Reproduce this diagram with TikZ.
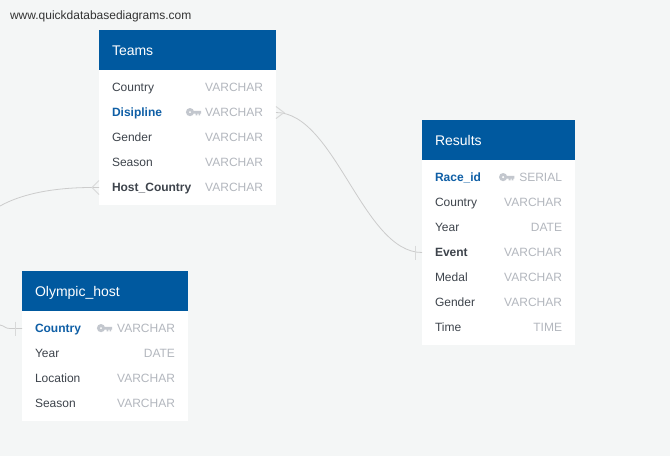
\documentclass[tikz,border=0pt]{standalone}
\usepackage{fontspec}
\setmainfont{Liberation Sans}
\usepackage{tikz}
\usetikzlibrary{ calc, positioning }
\definecolor{pagebg}{HTML}{F4F6F6}
\definecolor{headblue}{HTML}{00599F}
\definecolor{keyblue}{HTML}{0F5FA6}
\definecolor{fieldgrey}{HTML}{3E444C}
\definecolor{typegrey}{HTML}{B3B7BE}
\definecolor{keygrey}{HTML}{C3C7CE}
\definecolor{linegrey}{HTML}{CCCCCC}
\definecolor{tickgrey}{HTML}{D8D9D9}
\tikzset{
  x=1pt, y=-1pt,
  node distance=0pt,
  every node/.style={outer sep=0pt},
  head/.style={fill=headblue, text=white, font=\fontsize{14}{16}\selectfont, minimum height=40pt,
    inner ysep=0pt, inner xsep=13pt, align=left, text width=#1pt-26pt, text height=14pt, text depth=3pt},
  tbody/.style={fill=white, minimum width=#1pt, inner sep=0pt},
  field/.style={text=fieldgrey, font=\fontsize{12}{14}\selectfont, minimum height=25pt,
    inner ysep=0pt, inner xsep=13pt, align=left, text width=#1pt-26pt, text height=11pt, text depth=3pt},
  keyfield/.style={field=#1, text=keyblue, font=\fontsize{12}{14}\selectfont\bfseries},
  boldfield/.style={field=#1, font=\fontsize{12}{14}\selectfont\bfseries},
  type/.style={text=typegrey, font=\fontsize{12}{14}\selectfont, inner sep=0pt, text height=11pt, text depth=3pt},
  link/.style={draw=linegrey, line width=0.8pt},
  tick/.style={draw=tickgrey, line width=1pt},
  keyicon/.pic={
    \fill[keygrey, even odd rule] (-11.2,-0.4) circle (4.1) (-11.2,-0.4) circle (1.3);
    \fill[keygrey] (-8,-1.6) rectangle (0,1) (-2.6,1) rectangle (-1,2.8) (-5.6,1) rectangle (-3.8,2.8);
  },
}
\begin{document}
\begin{tikzpicture}
  \useasboundingbox[fill=pagebg] (0,0) rectangle (670,456);
  \node[anchor=west, inner sep=0pt, text=black!80, font=\fontsize{12}{14}\selectfont] (site) at (10,16) {www.quickdatabasediagrams.com};

  % Teams
  \node[head=177, anchor=north west] (teams) at (99,30) {Teams};
  \node[tbody=177, minimum height=135pt, below=of teams] (teamsBody) {};
  \node[field=177, below=5pt of teams] (teamsCountry) {Country};
  \node[keyfield=177, below=of teamsCountry] (teamsDisipline) {Disipline};
  \node[field=177, below=of teamsDisipline] (teamsGender) {Gender};
  \node[field=177, below=of teamsGender] (teamsSeason) {Season};
  \node[boldfield=177, below=of teamsSeason] (teamsHost) {Host\_Country};
  \node[type, left=13pt of teamsCountry.east] (teamsCountryT) {VARCHAR};
  \node[type, left=13pt of teamsDisipline.east] (teamsDisiplineT) {VARCHAR};
  \node[type, left=13pt of teamsGender.east] (teamsGenderT) {VARCHAR};
  \node[type, left=13pt of teamsSeason.east] (teamsSeasonT) {VARCHAR};
  \node[type, left=13pt of teamsHost.east] (teamsHostT) {VARCHAR};
  \pic at ([xshift=-4pt]teamsDisiplineT.west) {keyicon};

  % Results
  \node[head=153, anchor=north west] (results) at (422,120) {Results};
  \node[tbody=153, minimum height=185pt, below=of results] (resultsBody) {};
  \node[keyfield=153, below=5pt of results] (resultsRace) {Race\_id};
  \node[field=153, below=of resultsRace] (resultsCountry) {Country};
  \node[field=153, below=of resultsCountry] (resultsYear) {Year};
  \node[boldfield=153, below=of resultsYear] (resultsEvent) {Event};
  \node[field=153, below=of resultsEvent] (resultsMedal) {Medal};
  \node[field=153, below=of resultsMedal] (resultsGender) {Gender};
  \node[field=153, below=of resultsGender] (resultsTime) {Time};
  \node[type, left=13pt of resultsRace.east] (resultsRaceT) {SERIAL};
  \node[type, left=13pt of resultsCountry.east] (resultsCountryT) {VARCHAR};
  \node[type, left=13pt of resultsYear.east] (resultsYearT) {DATE};
  \node[type, left=13pt of resultsEvent.east] (resultsEventT) {VARCHAR};
  \node[type, left=13pt of resultsMedal.east] (resultsMedalT) {VARCHAR};
  \node[type, left=13pt of resultsGender.east] (resultsGenderT) {VARCHAR};
  \node[type, left=13pt of resultsTime.east] (resultsTimeT) {TIME};
  \pic at ([xshift=-5pt]resultsRaceT.west) {keyicon};

  % Olympic_host
  \node[head=166, anchor=north west] (host) at (22,271) {Olympic\_host};
  \node[tbody=166, minimum height=110pt, below=of host] (hostBody) {};
  \node[keyfield=166, below=5pt of host] (hostCountry) {Country};
  \node[field=166, below=of hostCountry] (hostYear) {Year};
  \node[field=166, below=of hostYear] (hostLocation) {Location};
  \node[field=166, below=of hostLocation] (hostSeason) {Season};
  \node[type, left=13pt of hostCountry.east] (hostCountryT) {VARCHAR};
  \node[type, left=13pt of hostYear.east] (hostYearT) {DATE};
  \node[type, left=13pt of hostLocation.east] (hostLocationT) {VARCHAR};
  \node[type, left=13pt of hostSeason.east] (hostSeasonT) {VARCHAR};
  \pic at ([xshift=-5pt]hostCountryT.west) {keyicon};

  % connectors
  \coordinate (offLeftTop) at (0,206);
  \coordinate (offLeftLow) at (0,325);
  \draw[link] (teamsDisipline.east) .. controls ($(teamsDisipline.east)+(59,0)$) and ($(resultsEvent.west)+(-59,0)$) .. (resultsEvent.west);
  \draw[link] (teamsHost.west) -- ++(-7,0) .. controls ++(-32,0) and ($(offLeftTop)+(25,-14)$) .. (offLeftTop);
  \draw[link] (hostCountry.west) -- ++(-12,0) .. controls ++(-5,0) and ($(offLeftLow)+(5,1)$) .. (offLeftLow);

  \draw[tick] ($(teamsDisipline.east)+(0,-6)$) -- ++(8,6) -- ++(-8,6);
  \draw[tick] ($(teamsHost.west)+(0,-7)$) -- ++(-7,7) -- ++(7,7);
  \draw[tick] ($(resultsEvent.west)+(-7,-7)$) -- ++(0,14);
  \draw[tick] ($(hostCountry.west)+(-7,-7)$) -- ++(0,14);
\end{tikzpicture}
\end{document}
